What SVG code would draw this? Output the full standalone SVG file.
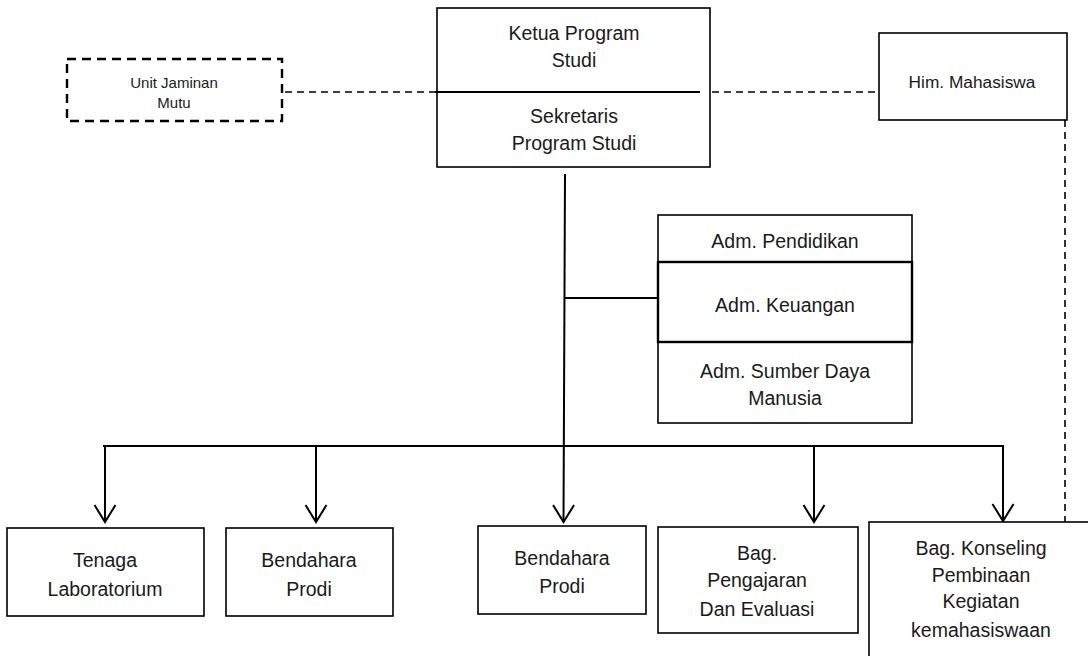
<svg xmlns="http://www.w3.org/2000/svg" width="1088" height="656" viewBox="0 0 1088 656">
<defs>
<marker id="arr" markerUnits="userSpaceOnUse" markerWidth="22" markerHeight="26" refX="20" refY="13" orient="auto" viewBox="0 0 22 26">
<path d="M3,2.5 L20,13 L3,23.5" fill="none" stroke="#000" stroke-width="2"/>
</marker>
<style>
.box{fill:#fff;stroke:#000;stroke-width:1.6}
.t{font-family:"Liberation Sans",Arial,sans-serif;font-size:19.5px;fill:#1a1a1a;text-anchor:middle}
.s{font-size:15px}
.m{font-size:17.3px}
.ln{fill:none;stroke:#000;stroke-width:2}
.dl{fill:none;stroke:#000;stroke-width:1.6;stroke-dasharray:7 5}
</style>
</defs>
<rect width="1088" height="656" fill="#fff"/>
<g id="connectors">
<line class="dl" x1="273" y1="92" x2="437" y2="92"/>
<line class="dl" x1="712" y1="92" x2="879" y2="92"/>
<line class="dl" x1="1065" y1="120" x2="1065" y2="522"/>
<line class="ln" x1="565" y1="174" x2="563.5" y2="522" marker-end="url(#arr)"/>
<line class="ln" x1="564" y1="298" x2="658" y2="298"/>
<line class="ln" x1="103" y1="446" x2="1004" y2="446"/>
<line class="ln" x1="105" y1="446" x2="105" y2="522" marker-end="url(#arr)"/>
<line class="ln" x1="316" y1="446" x2="316" y2="522" marker-end="url(#arr)"/>
<line class="ln" x1="814" y1="446" x2="814" y2="522" marker-end="url(#arr)"/>
<line class="ln" x1="1003" y1="446" x2="1003" y2="521" marker-end="url(#arr)"/>
</g>
<g id="unit-jaminan-mutu">
<rect x="67" y="59" width="215" height="62" fill="#fff" stroke="#000" stroke-width="2.4" stroke-dasharray="9 6"/>
<text class="t s" x="174" y="88">Unit Jaminan</text>
<text class="t s" x="174" y="108">Mutu</text>
</g>
<g id="ketua-sekretaris">
<rect class="box" x="437" y="8" width="273" height="159"/>
<line x1="435" y1="92" x2="700" y2="92" stroke="#000" stroke-width="2"/>
<text class="t" x="574" y="40">Ketua Program</text>
<text class="t" x="574" y="67">Studi</text>
<text class="t" x="574" y="123">Sekretaris</text>
<text class="t" x="574" y="150">Program Studi</text>
</g>
<g id="him-mahasiswa">
<rect class="box" x="879" y="33" width="188" height="87"/>
<text class="t m" x="972" y="88">Him. Mahasiswa</text>
</g>
<g id="adm">
<rect class="box" x="658" y="215" width="254" height="208"/>
<rect x="658" y="262" width="254" height="80" fill="#fff" stroke="#000" stroke-width="2.4"/>
<text class="t" x="785" y="248">Adm. Pendidikan</text>
<text class="t" x="785" y="312">Adm. Keuangan</text>
<text class="t" x="785" y="378">Adm. Sumber Daya</text>
<text class="t" x="785" y="405">Manusia</text>
</g>
<g id="tenaga-laboratorium">
<rect class="box" x="7" y="528" width="197" height="88"/>
<text class="t" x="105" y="567">Tenaga</text>
<text class="t" x="105" y="596">Laboratorium</text>
</g>
<g id="bendahara-prodi-1">
<rect class="box" x="226" y="528" width="167" height="88"/>
<text class="t" x="309" y="567">Bendahara</text>
<text class="t" x="309" y="596">Prodi</text>
</g>
<g id="bendahara-prodi-2">
<rect class="box" x="478" y="526" width="168" height="88"/>
<text class="t" x="562" y="565">Bendahara</text>
<text class="t" x="562" y="593">Prodi</text>
</g>
<g id="bag-pengajaran">
<rect class="box" x="658" y="527" width="200" height="106"/>
<text class="t" x="757" y="560">Bag.</text>
<text class="t" x="757" y="587">Pengajaran</text>
<text class="t" x="757" y="616">Dan Evaluasi</text>
</g>
<g id="bag-konseling">
<rect class="box" x="869" y="522" width="230" height="150"/>
<text class="t" x="981" y="555">Bag. Konseling</text>
<text class="t" x="981" y="582">Pembinaan</text>
<text class="t" x="981" y="608">Kegiatan</text>
<text class="t" x="981" y="637">kemahasiswaan</text>
</g>
</svg>
